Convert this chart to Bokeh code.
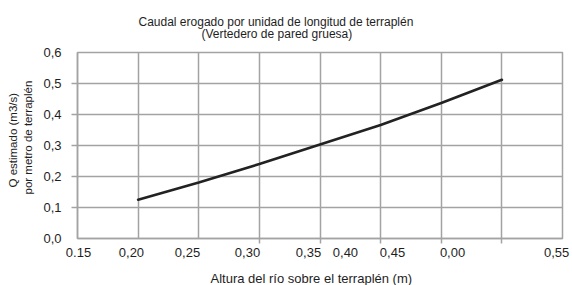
from bokeh.plotting import figure
from bokeh.models import Range1d, FixedTicker, Title
from bokeh.embed import file_html
from bokeh.resources import INLINE

# ---- data ----
altura = [0.20, 0.25, 0.30, 0.35, 0.40, 0.45, 0.50]
caudal = [0.125, 0.181, 0.240, 0.303, 0.366, 0.437, 0.512]

x_tick_pos = [0.1508, 0.1945, 0.2407, 0.2902, 0.3405, 0.3710, 0.4098, 0.4593, 0.5451]
x_tick_labels = ["0.15", "0,20", "0,25", "0,30", "0,35", "0,40", "0,45", "0,00", "0,55"]
x_grid_vals = [0.15, 0.20, 0.25, 0.30, 0.35, 0.40, 0.45, 0.50, 0.55]
x_mark_vals = [0.30, 0.35, 0.40, 0.45, 0.50]

y_tick_vals = [0.0, 0.1, 0.2, 0.3, 0.4, 0.5, 0.6]
y_tick_labels = ["0,0", "0,1", "0,2", "0,3", "0,4", "0,5", "0,6"]

title_l1 = "Caudal erogado por unidad de longitud de terraplén"
title_l2 = "(Vertedero de pared gruesa)"
ylab_l1 = "Q estimado (m3/s)"
ylab_l2 = "por metro de terraplén"
xlab = "Altura del río sobre el terraplén (m)"

FONT = "Liberation Sans"
TXT = "#1e1e1e"
GRID = "#a3a3a3"

p = figure(width=572, height=285, output_backend="svg", toolbar_location=None,
           x_range=Range1d(0.15, 0.55), y_range=Range1d(0.0, 0.6),
           min_border_left=77, min_border_right=10, min_border_top=52, min_border_bottom=44)
p.background_fill_color = "white"
p.border_fill_color = "white"
p.outline_line_color = GRID
p.outline_line_width = 1.5

# grids
p.xgrid.ticker = FixedTicker(ticks=x_grid_vals)
p.ygrid.ticker = FixedTicker(ticks=y_tick_vals[1:-1])
for g in (p.xgrid, p.ygrid):
    g.grid_line_color = GRID
    g.grid_line_width = 1.5

# x axis
xa = p.xaxis[0]
xa.ticker = FixedTicker(ticks=x_tick_pos, minor_ticks=x_mark_vals)
xa.major_label_overrides = {v: l for v, l in zip(x_tick_pos, x_tick_labels)}
xa.major_tick_out = 0
xa.major_tick_in = 0
xa.minor_tick_out = 5
xa.minor_tick_in = 0
xa.minor_tick_line_color = GRID
xa.minor_tick_line_width = 1.5
xa.axis_line_color = GRID
xa.axis_line_width = 1.5
xa.major_label_standoff = 4
xa.major_label_text_font = FONT
xa.major_label_text_font_size = "13px"
xa.major_label_text_color = TXT

# y axis
ya = p.yaxis[0]
ya.ticker = FixedTicker(ticks=y_tick_vals, minor_ticks=y_tick_vals[1:-1])
ya.major_label_overrides = {v: l for v, l in zip(y_tick_vals, y_tick_labels)}
ya.major_tick_out = 0
ya.major_tick_in = 0
ya.minor_tick_out = 6
ya.minor_tick_in = 0
ya.minor_tick_line_color = GRID
ya.minor_tick_line_width = 1.5
ya.axis_line_color = GRID
ya.axis_line_width = 1.5
ya.major_label_standoff = 10
ya.major_label_text_font = FONT
ya.major_label_text_font_size = "13px"
ya.major_label_text_color = TXT

# curve
p.line(altura, caudal, line_color="#222222", line_width=2.6, line_cap="round")

# texts as titles
def ttl(text, side, offset, standoff, size, **kw):
    t = Title(text=text, align="left", offset=offset, standoff=standoff,
              text_font=FONT, text_font_size=size, text_color=TXT,
              text_font_style="normal", **kw)
    p.add_layout(t, side)

ttl(title_l2, "above", 124, 24, "12px")
ttl(title_l1, "above", 61, -33, "12px")
ttl(ylab_l2, "left", 44, 13, "11.5px")
ttl(ylab_l1, "left", 51, -11, "11.5px")
ttl(xlab, "below", 133, -1, "13px", padding=dict(left=0, right=0, top=10, bottom=0))

open("out.html", "w").write(file_html(p, INLINE))
